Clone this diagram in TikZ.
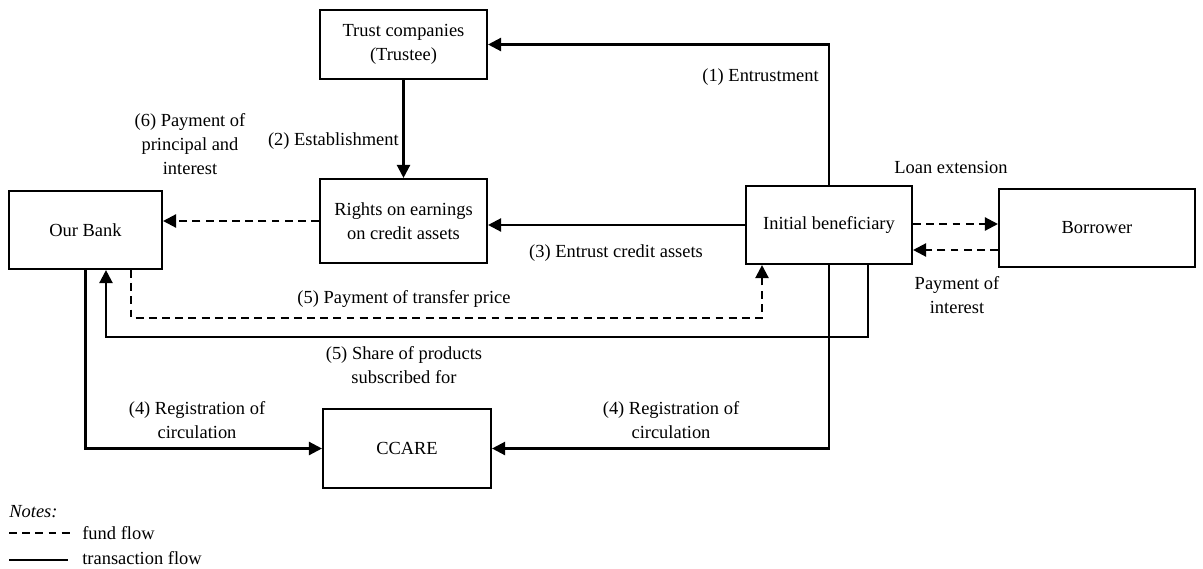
\documentclass[tikz,border=0pt]{standalone}
\usepackage{fontspec}
\setmainfont{Liberation Serif}
\usepackage{tikz}
\usetikzlibrary{positioning,arrows.meta,calc}
\tikzset{
  party/.style={
    draw,
    line width=1.2pt,
    rectangle,
    inner sep=2pt,
    align=center,
    font=\fontsize{10.5pt}{13.5pt}\selectfont
  },
  flowlabel/.style={
    inner sep=0pt,
    align=center,
    font=\fontsize{10.5pt}{13.5pt}\selectfont
  },
  trans/.style={
    -{Triangle[length=7.5pt,width=7.5pt]},
    line width=1.3pt
  },
  fund/.style={
    trans,
    dash pattern=on 4.5pt off 3pt
  }
}
\begin{document}
\begin{tikzpicture}[x=0.02cm,y=-0.02cm]
  \useasboundingbox (0,0) rectangle (1203,568);

  % parties
  \node[party, minimum width=3.34cm, minimum height=1.38cm] (trust) at (403.5,44.5) {Trust companies\\(Trustee)};
  \node[party, minimum width=3.34cm, minimum height=1.68cm] (rights) at (403.5,221) {Rights on earnings\\on credit assets};
  \node[party, minimum width=3.06cm, minimum height=1.56cm] (bank) at (85.5,230) {Our Bank};
  \node[party, minimum width=3.32cm, minimum height=1.56cm] (init) at (829,225) {Initial beneficiary};
  \node[party, minimum width=3.92cm, minimum height=1.56cm] (borrower) at (1097,228) {Borrower};
  \node[party, minimum width=3.36cm, minimum height=1.58cm] (ccare) at (407,448.5) {CCARE};

  % transaction flows
  \draw[trans] (init.north) |- (trust.east);
  \draw[trans] (trust.south) -- (rights.north);
  \draw[trans] (init.west) -- (init.west -| rights.east);
  \draw[trans] ([xshift=0.78cm]init.south) |- ([xshift=0.41cm,yshift=-1.34cm]bank.south) -- ([xshift=0.41cm]bank.south);
  \draw[trans] (bank.south) |- (ccare.west);
  \draw[trans] (init.south) |- (ccare.east);

  % fund flows
  \draw[fund] (rights.west) -- (rights.west -| bank.east);
  \draw[fund] ([yshift=0.02cm]init.east) -- ([yshift=0.02cm]init.east -| borrower.west);
  \draw[fund] ([yshift=-0.5cm]init.east -| borrower.west) -- ([yshift=-0.5cm]init.east);
  \draw[fund] ([xshift=0.91cm]bank.south) |- ([xshift=-1.34cm,yshift=-1.06cm]init.south) -- ([xshift=-1.34cm]init.south);

  % labels
  \node[flowlabel, anchor=east] (l1) at (819,77) {(1) Entrustment};
  \node[flowlabel, anchor=east] (l2) at (399,141) {(2) Establishment};
  \node[flowlabel] (l3) at (616,253) {(3) Entrust credit assets};
  \node[flowlabel] (l6) at (190,144) {(6) Payment of\\principal and\\interest};
  \node[flowlabel] (lloan) at (951,167) {Loan extension};
  \node[flowlabel] (lint) at (957,295) {Payment of\\interest};
  \node[flowlabel] (l5a) at (404,299) {(5) Payment of transfer price};
  \node[flowlabel] (l5b) at (404,365) {(5) Share of products\\subscribed for};
  \node[flowlabel] (l4a) at (197,420) {(4) Registration of\\circulation};
  \node[flowlabel] (l4b) at (671,420) {(4) Registration of\\circulation};

  % notes
  \node[flowlabel, anchor=west] (notes) at (9,512) {\itshape Notes:};
  \draw[line width=1.2pt, dash pattern=on 4.5pt off 3pt] (9,533) -- (70,533);
  \node[flowlabel, anchor=west] (lfund) at (82,533) {fund flow};
  \draw[line width=1.2pt] (9,560) -- (68,560);
  \node[flowlabel, anchor=west] (ltrans) at (82,558) {transaction flow};
\end{tikzpicture}
\end{document}
